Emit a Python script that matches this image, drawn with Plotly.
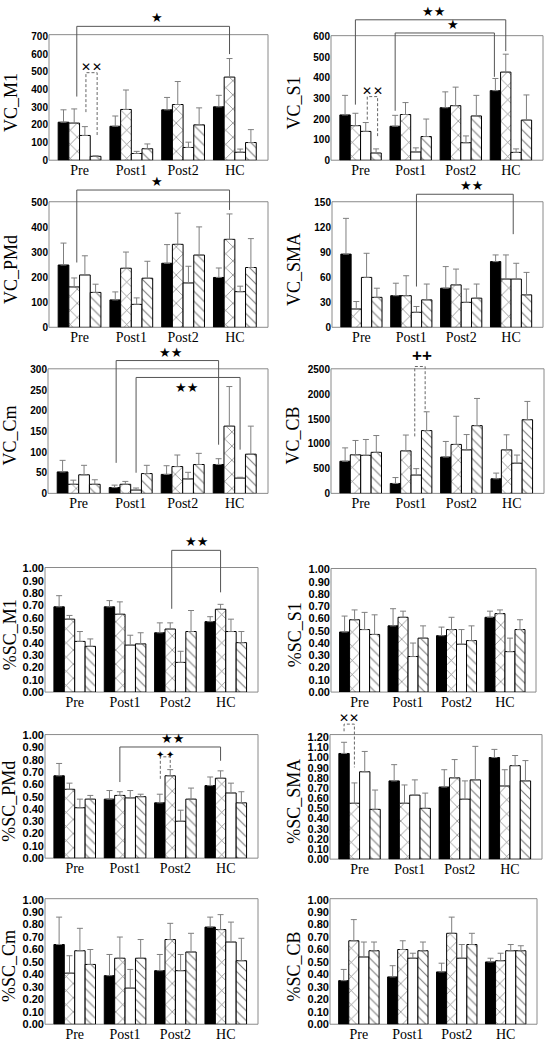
import plotly.graph_objects as go

groups = ["Pre", "Post1", "Post2", "HC"]
# series order in every panel: black, crosshatch, white, diagonal hatch

VC_M1_mean = [[215, 192, 285, 302], [210, 287, 315, 470], [140, 38, 72, 45], [22, 65, 200, 100]]
VC_M1_sd = [[70, 58, 70, 65], [80, 110, 130, 105], [50, 12, 30, 18], [3, 27, 96, 73]]

VC_S1_mean = [[220, 165, 255, 338], [168, 222, 265, 428], [140, 40, 85, 38], [35, 115, 215, 195]]
VC_S1_sd = [[95, 53, 77, 59], [60, 58, 90, 87], [43, 20, 33, 17], [20, 85, 100, 122]]

VC_PMd_mean = [[250, 110, 257, 200], [162, 237, 333, 353], [210, 92, 178, 143], [140, 197, 290, 240]]
VC_PMd_sd = [[88, 32, 75, 38], [36, 65, 125, 102], [77, 26, 67, 22], [33, 68, 113, 116]]

VC_SMA_mean = [[88, 38, 47, 79], [22, 38, 51, 58], [60, 18, 30, 58], [36, 33, 35, 39]]
VC_SMA_sd = [[43, 15, 26, 8], [9, 24, 19, 29], [29, 7, 16, 19], [11, 19, 17, 27]]

VC_Cm_mean = [[52, 14, 46, 70], [22, 22, 65, 163], [45, 8, 35, 37], [22, 48, 70, 95]]
VC_Cm_sd = [[28, 6, 21, 14], [10, 7, 28, 96], [23, 5, 16, 2], [11, 20, 27, 68]]

VC_CB_mean = [[650, 200, 735, 295], [780, 860, 990, 880], [770, 370, 880, 610], [830, 1270, 1370, 1490]]
VC_CB_sd = [[270, 120, 315, 115], [290, 320, 570, 305], [320, 130, 310, 165], [340, 380, 550, 370]]

SC_M1_mean = [[0.69, 0.69, 0.48, 0.57], [0.59, 0.63, 0.51, 0.67], [0.41, 0.38, 0.24, 0.49], [0.37, 0.39, 0.49, 0.40]]
SC_M1_sd = [[0.09, 0.05, 0.08, 0.04], [0.03, 0.10, 0.05, 0.04], [0.08, 0.08, 0.09, 0.10], [0.06, 0.09, 0.17, 0.09]]

SC_S1_mean = [[0.49, 0.54, 0.46, 0.61], [0.59, 0.61, 0.51, 0.64], [0.51, 0.29, 0.39, 0.33], [0.47, 0.44, 0.42, 0.51]]
SC_S1_sd = [[0.13, 0.14, 0.07, 0.05], [0.08, 0.05, 0.10, 0.03], [0.14, 0.11, 0.12, 0.11], [0.16, 0.10, 0.12, 0.08]]

SC_PMd_mean = [[0.67, 0.48, 0.45, 0.59], [0.56, 0.51, 0.67, 0.65], [0.41, 0.49, 0.30, 0.53], [0.48, 0.50, 0.48, 0.45]]
SC_PMd_sd = [[0.10, 0.07, 0.07, 0.07], [0.05, 0.03, 0.05, 0.06], [0.07, 0.06, 0.09, 0.08], [0.03, 0.02, 0.09, 0.09]]

SC_SMA_mean = [[1.04, 0.77, 0.71, 1.00], [0.55, 0.55, 0.80, 0.72], [0.86, 0.63, 0.59, 0.92], [0.49, 0.50, 0.78, 0.77]]
SC_SMA_sd = [[0.11, 0.16, 0.17, 0.08], [0.20, 0.18, 0.18, 0.16], [0.20, 0.15, 0.18, 0.10], [0.19, 0.15, 0.33, 0.20]]

SC_Cm_mean = [[0.64, 0.39, 0.43, 0.78], [0.41, 0.53, 0.68, 0.76], [0.59, 0.29, 0.43, 0.66], [0.48, 0.53, 0.58, 0.51]]
SC_Cm_sd = [[0.22, 0.17, 0.13, 0.08], [0.14, 0.17, 0.13, 0.12], [0.18, 0.15, 0.13, 0.16], [0.12, 0.15, 0.15, 0.18]]

SC_CB_mean = [[0.35, 0.38, 0.42, 0.50], [0.67, 0.60, 0.73, 0.51], [0.54, 0.53, 0.53, 0.59], [0.59, 0.59, 0.64, 0.59]]
SC_CB_sd = [[0.09, 0.09, 0.07, 0.03], [0.17, 0.07, 0.13, 0.06], [0.12, 0.04, 0.11, 0.05], [0.07, 0.07, 0.09, 0.04]]

VC_ticks = {
    "VC_M1": [0, 100, 200, 300, 400, 500, 600, 700],
    "VC_S1": [0, 100, 200, 300, 400, 500, 600],
    "VC_PMd": [0, 100, 200, 300, 400, 500],
    "VC_SMA": [0, 30, 60, 90, 120, 150],
    "VC_Cm": [0, 50, 100, 150, 200, 250, 300],
    "VC_CB": [0, 500, 1000, 1500, 2000, 2500],
}
SC_ticks10 = [0.0, 0.1, 0.2, 0.3, 0.4, 0.5, 0.6, 0.7, 0.8, 0.9, 1.0]
SC_ticks12 = [0.0, 0.1, 0.2, 0.3, 0.4, 0.5, 0.6, 0.7, 0.8, 0.9, 1.0, 1.1, 1.2]

# ---------------- layout / style ----------------
W, H = 550, 1050
BARGAP = 0.174
BW = (1 - BARGAP) / 4
XR = [-0.59, 3.64]
SOLID = "#555555"
FRAME = "#8a8a8a"


def bx(leg):
    g, b, dx = leg
    return g + (b - 1.5) * BW + dx


panels = [
    dict(title="VC_M1", mean=VC_M1_mean, sd=VC_M1_sd, box=(49, 268, 29, 156), dtop=4, vf=710,
         ticks=VC_ticks["VC_M1"], fmt="{:d}", tfs=10, tx=37.5,
         br=[dict(legs=((0, 1, 0.05), (3, 1, 0)), bot=(360, 600), top=757, dash=False, mark="★", mx=1.5),
             dict(legs=((0, 2, 0.02), (0, 3, 0.03)), bot=(272, 136), top=495, dash=True, mark="✕", mx=None)]),
    dict(title="VC_S1", mean=VC_S1_mean, sd=VC_S1_sd, box=(331, 543, 30, 156), dtop=2, vf=605,
         ticks=VC_ticks["VC_S1"], fmt="{:d}", tfs=10, tx=37.5,
         br=[dict(legs=((0, 1, 0), (3, 1, 0)), bot=(270, 530), top=682, dash=False, mark="★★", mx=1.45),
             dict(legs=((1, 0, 0), (3, 0, -0.02)), bot=(240, 405), top=618, dash=False, mark="★", mx=1.84),
             dict(legs=((0, 2, 0.03), (0, 3, 0.03)), bot=(197, 117), top=309, dash=True, mark="✕", mx=None)]),
    dict(title="VC_PMd", mean=VC_PMd_mean, sd=VC_PMd_sd, box=(49, 268, 198, 325), dtop=172, vf=504,
         ticks=VC_ticks["VC_PMd"], fmt="{:d}", tfs=10, tx=37.5,
         br=[dict(legs=((0, 1, 0.05), (3, 1, 0)), bot=(260, 471), top=551, dash=False, mark="★", mx=1.5)]),
    dict(title="VC_SMA", mean=VC_SMA_mean, sd=VC_SMA_sd, box=(332, 543, 198, 325), dtop=178, vf=151,
         ticks=VC_ticks["VC_SMA"], fmt="{:d}", tfs=10, tx=37.5,
         br=[dict(legs=((1, 2, 0), (3, 2, -0.06)), bot=(49, 112), top=160, dash=False, mark="★★", mx=2.2)]),
    dict(title="VC_Cm", mean=VC_Cm_mean, sd=VC_Cm_sd, box=(48, 268, 367, 493), dtop=345, vf=302,
         ticks=VC_ticks["VC_Cm"], fmt="{:d}", tfs=10, tx=37.5,
         br=[dict(legs=((1, 0, 0.03), (3, 0, 0)), bot=(74, 118), top=322, dash=False, mark="★★", mx=1.76),
             dict(legs=((1, 2, 0), (3, 2, 0)), bot=(50, 106), top=281, dash=False, mark="★★", mx=2.08,
                  below=True)]),
    dict(title="VC_CB", mean=VC_CB_mean, sd=VC_CB_sd, box=(331, 544, 367, 493), dtop=345, vf=2520,
         ticks=VC_ticks["VC_CB"], fmt="{:d}", tfs=10, tx=37.5,
         br=[dict(legs=((1, 2, -0.03), (1, 3, -0.03)), bot=(1153, 1650), top=2567, dash=True, mark="++",
                  mx=1.21)]),
    dict(title="%SC_M1", mean=SC_M1_mean, sd=SC_M1_sd, box=(45, 258, 568, 694), dtop=537, vf=1.008,
         ticks=SC_ticks10, fmt="{:.2f}", tfs=11, tx=35.5,
         br=[dict(legs=((2, 1, 0.03), (3, 1, 0)), bot=(0.674, 0.807), top=1.147, dash=False, mark="★★",
                  mx=2.41)]),
    dict(title="%SC_S1", mean=SC_S1_mean, sd=SC_S1_sd, box=(331, 536, 569, 694), dtop=569, vf=1.008,
         ticks=SC_ticks10, fmt="{:.2f}", tfs=11, tx=36, br=[]),
    dict(title="%SC_PMd", mean=SC_PMd_mean, sd=SC_PMd_sd, box=(45, 258, 737, 862), dtop=737, vf=1.005,
         ticks=SC_ticks10, fmt="{:.2f}", tfs=11, tx=35.5,
         br=[dict(legs=((1, 1, 0), (3, 1, 0)), bot=(0.619, 0.792), top=0.904, dash=False, mark="★★", mx=1.94),
             dict(legs=((2, 0, 0.01), (2, 1, 0)), bot=(0.645, 0.735), top=0.824, dash=True, mark="✦",
                  mx=None, msize=10, mshift=-5)]),
    dict(title="%SC_SMA", mean=SC_SMA_mean, sd=SC_SMA_sd, box=(330, 542, 737, 863), dtop=710, vf=1.226,
         ticks=SC_ticks12, fmt="{:.2f}", tfs=11, tx=36,
         br=[dict(legs=((0, 0, 0), (0, 1, 0)), bot=(1.258, 0.903), top=1.329, dash=True, mark="✕", mx=None)]),
    dict(title="%SC_Cm", mean=SC_Cm_mean, sd=SC_Cm_sd, box=(45, 258, 903, 1030), dtop=903, vf=1.008,
         ticks=SC_ticks10, fmt="{:.2f}", tfs=11, tx=35.5, br=[]),
    dict(title="%SC_CB", mean=SC_CB_mean, sd=SC_CB_sd, box=(330, 537, 903, 1030), dtop=903, vf=1.008,
         ticks=SC_ticks10, fmt="{:.2f}", tfs=11, tx=36, br=[]),
]

styles = [
    dict(color="black", line=dict(color="black", width=1)),
    dict(color="white", line=dict(color="black", width=1),
         pattern=dict(shape="x", size=10, solidity=0.14, fgcolor="black", bgcolor="white")),
    dict(color="white", line=dict(color="black", width=1)),
    dict(color="white", line=dict(color="black", width=1),
         pattern=dict(shape="\\", size=7, solidity=0.16, fgcolor="black", bgcolor="white")),
]

fig = go.Figure()
shapes = []
annotations = []
layout = {}

for i, p in enumerate(panels):
    n = "" if i == 0 else str(i + 1)
    xa, ya = "x" + n, "y" + n
    L, R, T, B = p["box"]
    rtop = p["vf"] * (B - p["dtop"]) / (B - T)
    for s in range(4):
        fig.add_trace(go.Bar(
            x=[0, 1, 2, 3], y=p["mean"][s], xaxis=xa, yaxis=ya, offsetgroup=str(s),
            marker=styles[s], showlegend=False, hoverinfo="skip",
            error_y=dict(type="data", symmetric=False, array=p["sd"][s], arrayminus=[0, 0, 0, 0],
                         color="#7f7f7f", thickness=1, width=3),
        ))
    layout["xaxis" + n] = dict(
        domain=[L / W, R / W], range=XR, anchor=ya, tickvals=[0, 1, 2, 3], ticktext=groups,
        showgrid=False, zeroline=False, showline=False, ticks="",
        tickfont=dict(family="Liberation Serif", size=14, color="black"), fixedrange=True)
    layout["yaxis" + n] = dict(
        domain=[1 - B / H, 1 - p["dtop"] / H], range=[0, rtop], anchor=xa,
        tickvals=p["ticks"], ticktext=[p["fmt"].format(t) for t in p["ticks"]],
        showgrid=False, zeroline=False, showline=False, ticks="",
        tickfont=dict(family="Liberation Sans", size=p["tfs"], color="black", weight="bold"),
        fixedrange=True)
    # frame
    shapes.append(dict(type="rect", xref="paper", yref="paper", x0=L / W, x1=R / W,
                       y0=1 - B / H, y1=1 - T / H, line=dict(color=FRAME, width=1), layer="below"))
    # y title
    annotations.append(dict(xref="paper", yref="paper", x=(L - p["tx"]) / W, y=1 - ((T + B) / 2 + 5) / H,
                            text=p["title"], textangle=-90, showarrow=False, xanchor="center",
                            yanchor="middle",
                            font=dict(family="Liberation Serif", size=18, color="black")))
    # significance brackets
    for b in p["br"]:
        x0, x1 = bx(b["legs"][0]), bx(b["legs"][1])
        y0, y1 = b["bot"]
        path = "M %f,%f L %f,%f L %f,%f L %f,%f" % (x0, y0, x0, b["top"], x1, b["top"], x1, y1)
        shapes.append(dict(type="path", xref=xa, yref=ya, path=path,
                           line=dict(color=SOLID if not b["dash"] else "#666666", width=1,
                                     dash="3px,2px" if b["dash"] else "solid")))
        below = b.get("below", False)
        if b["mark"] == "++":
            font = dict(family="Liberation Sans", size=17, color="black", weight="bold")
        elif b["mark"] in ("✕", "✦"):
            font = dict(family="DejaVu Sans", size=b.get("msize", 12), color="black", weight="bold")
        else:
            font = dict(family="DejaVu Sans", size=13, color="black")
        if b["mx"] is None:
            for xx in (x0, x1):
                annotations.append(dict(xref=xa, yref=ya, x=xx, y=b["top"], text=b["mark"], showarrow=False,
                                        xanchor="center", yanchor="bottom", yshift=b.get("mshift", -3),
                                        font=font))
        else:
            annotations.append(dict(xref=xa, yref=ya, x=b["mx"], y=b["top"], text=b["mark"], showarrow=False,
                                    xanchor="center", yanchor="top" if below else "bottom",
                                    yshift=-1 if below else -1, font=font))

fig.update_layout(
    width=W, height=H, margin=dict(l=0, r=0, t=0, b=0), autosize=False,
    paper_bgcolor="white", plot_bgcolor="white", hovermode=False,
    barmode="group", bargap=BARGAP, bargroupgap=0,
    shapes=shapes, annotations=annotations, showlegend=False, **layout)

fig.write_html("out.html", config={"displayModeBar": False, "staticPlot": True}, post_script=(
    "document.body.style.margin='0px';document.body.style.padding='0px';"
    "document.documentElement.style.overflow='hidden';document.body.style.overflow='hidden';"))
